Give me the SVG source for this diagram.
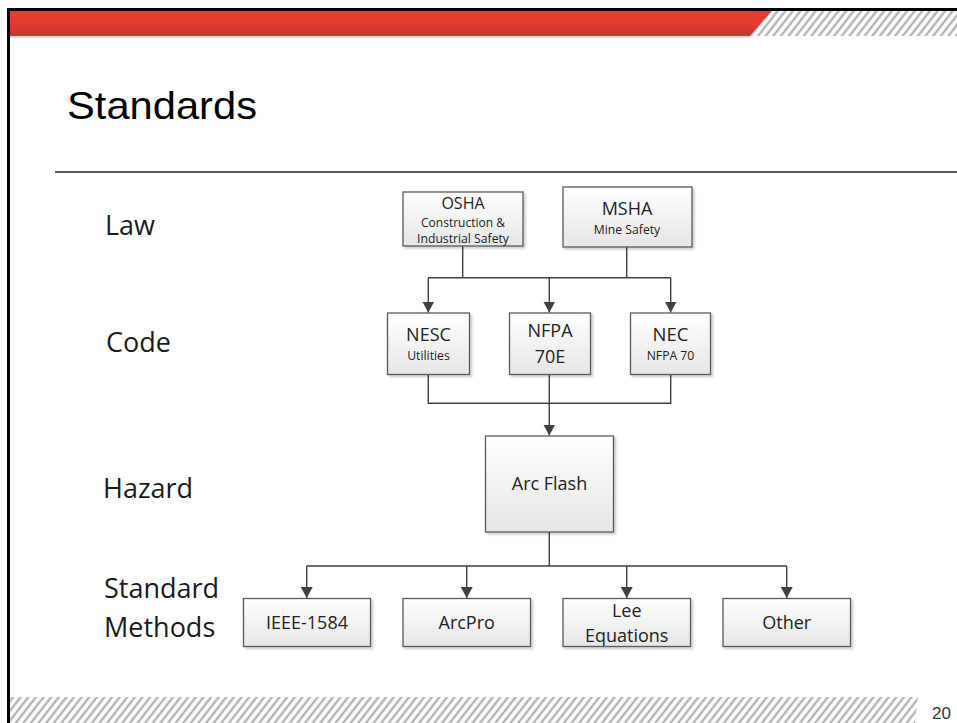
<svg xmlns="http://www.w3.org/2000/svg" width="957" height="723" viewBox="0 0 957 723">
<style>
.box{fill:url(#boxg);stroke:#5a5a5a;stroke-width:1.3;filter:url(#sh)}
.t{font-family:"Open Sans","Noto Sans",sans-serif;fill:#222;text-anchor:middle}
.lab{font-family:"Open Sans","Noto Sans",sans-serif;fill:#1a1a1a;font-size:27px}
.c{fill:none;stroke:#404040;stroke-width:1.4}
.a{fill:none;stroke:#404040;stroke-width:1.4;marker-end:url(#arr)}
</style>
<defs>
<linearGradient id="boxg" x1="0" y1="0" x2="0" y2="1">
<stop offset="0" stop-color="#ffffff"/>
<stop offset="1" stop-color="#e6e6e6"/>
</linearGradient>
<linearGradient id="redg" x1="0" y1="0" x2="0" y2="1">
<stop offset="0" stop-color="#e83b30"/>
<stop offset="0.6" stop-color="#de3a30"/>
<stop offset="1" stop-color="#bb3a33"/>
</linearGradient>
<pattern id="hatch" width="6" height="6" patternUnits="userSpaceOnUse" patternTransform="rotate(38)">
<rect width="6" height="6" fill="#ffffff"/>
<line x1="1.5" y1="0" x2="1.5" y2="6" stroke="#a6a6a6" stroke-width="2"/>
</pattern>
<filter id="sh" x="-10%" y="-10%" width="130%" height="130%">
<feDropShadow dx="2" dy="2" stdDeviation="1" flood-color="#000" flood-opacity="0.2"/>
</filter>
<marker id="arr" markerUnits="userSpaceOnUse" markerWidth="13" markerHeight="12" refX="11" refY="6" orient="auto">
<path d="M0,0 L11,6 L0,12 z" fill="#404040"/>
</marker>
</defs>
<rect width="957" height="723" fill="#ffffff"/>
<g id="header">
<polygon points="10,11 772,11 750,36 10,36" fill="url(#redg)"/>
<rect x="10" y="36" width="740" height="2" fill="#f3d0cc"/>
<polygon points="772,11 957,11 957,36 750,36" fill="url(#hatch)"/>
<line x1="7" y1="9.5" x2="957" y2="9.5" stroke="#000" stroke-width="3"/>
<line x1="8.5" y1="8" x2="8.5" y2="723" stroke="#000" stroke-width="3"/>
<text x="67" y="119" font-family="'Liberation Sans',Arial,sans-serif" font-size="39" fill="#000" textLength="190" lengthAdjust="spacingAndGlyphs">Standards</text>
<line x1="55" y1="172" x2="957" y2="172" stroke="#555" stroke-width="2"/>
</g>
<g id="footer">
<polygon points="10,697 918,697 915,723 10,723" fill="url(#hatch)"/>
<text x="932" y="719" font-family="'Liberation Sans',Arial,sans-serif" font-size="17" fill="#333">20</text>
</g>
<g id="labels">
<text class="lab" x="105" y="235">Law</text>
<text class="lab" x="106" y="352">Code</text>
<text class="lab" x="103" y="498">Hazard</text>
<text class="lab" x="104" y="598">Standard</text>
<text class="lab" x="104" y="637">Methods</text>
</g>
<g id="connectors">
<path class="c" d="M462.7,246 V277.7 M626.7,247 V277.7 M428.3,277.7 H670.7"/>
<path class="a" d="M428.3,277.7 V312.5"/>
<path class="a" d="M549.3,277.7 V312.5"/>
<path class="a" d="M670.7,277.7 V312.5"/>
<path class="c" d="M428.3,374.5 V403.3 H670.7 V374.5"/>
<path class="a" d="M549.3,374.5 V435.5"/>
<path class="c" d="M549.3,532 V566 M306.7,566 H786.7"/>
<path class="a" d="M306.7,566 V598"/>
<path class="a" d="M466.7,566 V598"/>
<path class="a" d="M626.7,566 V598"/>
<path class="a" d="M786.7,566 V598"/>
</g>
<g id="osha">
<rect class="box" x="403" y="192" width="120" height="54"/>
<text class="t" x="463" y="208.5" font-size="16">OSHA</text>
<text class="t" x="463" y="226.5" font-size="12">Construction &amp;</text>
<text class="t" x="463" y="243" font-size="12.2">Industrial Safety</text>
</g>
<g id="msha">
<rect class="box" x="563" y="187" width="129" height="60"/>
<text class="t" x="627" y="215" font-size="18">MSHA</text>
<text class="t" x="627" y="234" font-size="12.2">Mine Safety</text>
</g>
<g id="nesc">
<rect class="box" x="387.5" y="313" width="82" height="61.5"/>
<text class="t" x="428.5" y="340.5" font-size="18">NESC</text>
<text class="t" x="428.5" y="360" font-size="12.2">Utilities</text>
</g>
<g id="nfpa70e">
<rect class="box" x="509.5" y="313" width="81" height="61.5"/>
<text class="t" x="550" y="336.5" font-size="18">NFPA</text>
<text class="t" x="550" y="363" font-size="18">70E</text>
</g>
<g id="nec">
<rect class="box" x="630.5" y="313" width="80" height="61.5"/>
<text class="t" x="670.5" y="340.5" font-size="18.5">NEC</text>
<text class="t" x="670.5" y="360" font-size="12.2">NFPA 70</text>
</g>
<g id="arcflash">
<rect class="box" x="485.5" y="436" width="128" height="96"/>
<text class="t" x="549.5" y="490" font-size="18">Arc Flash</text>
</g>
<g id="ieee">
<rect class="box" x="243.5" y="598.5" width="127" height="48"/>
<text class="t" x="307" y="628.5" font-size="18">IEEE-1584</text>
</g>
<g id="arcpro">
<rect class="box" x="403" y="598.5" width="127.5" height="48"/>
<text class="t" x="466.7" y="628.5" font-size="18">ArcPro</text>
</g>
<g id="lee">
<rect class="box" x="563" y="598.5" width="127.5" height="48"/>
<text class="t" x="626.7" y="616.5" font-size="18">Lee</text>
<text class="t" x="626.7" y="641.5" font-size="18">Equations</text>
</g>
<g id="other">
<rect class="box" x="723" y="598.5" width="127.5" height="48"/>
<text class="t" x="786.7" y="628.5" font-size="18">Other</text>
</g>
</svg>
